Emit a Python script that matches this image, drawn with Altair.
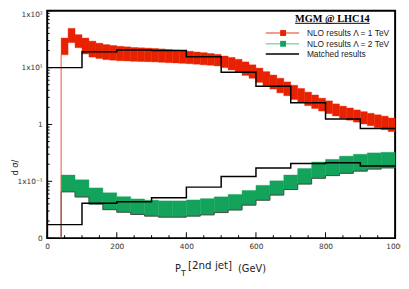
import altair as alt
import pandas as pd

# ---------------- data ----------------
red_edges = [40, 60, 80, 100, 120, 140, 160, 180, 200, 220, 240, 260, 280, 300, 320, 340,
             360, 380, 400, 420, 440, 460, 480, 500, 520, 540, 560, 580, 600, 620, 640, 660,
             680, 700, 720, 740, 760, 780, 800, 820, 840, 860, 880, 900, 920, 940, 960, 980, 1000]
red_hi = [33.1, 49.0, 38.0, 33.1, 29.2, 26.9, 25.4, 24.5, 23.7, 23.2,
          22.6, 22.3, 22.0, 21.7, 21.3, 20.8, 20.3, 19.9, 19.4, 18.8,
          18.3, 17.7, 17.1, 16.0, 15.1, 14.0, 12.6, 11.2, 9.8, 8.5,
          7.4, 6.5, 5.6, 4.9, 4.3, 3.7, 3.3, 2.9, 2.6, 2.3,
          2.1, 1.95, 1.8, 1.68, 1.57, 1.48, 1.40, 1.30]
red_lo = [16.8, 27.5, 22.4, 17.4, 15.3, 14.5, 13.8, 13.5, 13.2, 13.1,
          12.9, 12.8, 12.7, 12.6, 12.4, 12.2, 12.1, 11.9, 11.7, 11.5,
          11.2, 11.0, 10.7, 10.0, 9.1, 8.2, 7.3, 6.5, 5.5, 4.8,
          4.2, 3.6, 3.2, 2.75, 2.43, 2.14, 1.91, 1.72, 1.55, 1.41,
          1.29, 1.19, 1.10, 1.02, 0.95, 0.88, 0.81, 0.75]

green_edges = [40, 80, 120, 160, 200, 240, 280, 320, 360, 400, 440, 480, 520,
               560, 600, 640, 680, 720, 760, 800, 840, 880, 920, 960, 1000]
green_hi = [0.129, 0.106, 0.0764, 0.0628, 0.0536, 0.0489, 0.0465, 0.0452, 0.0452, 0.0470,
            0.0495, 0.0533, 0.0587, 0.0689, 0.0849, 0.102, 0.129, 0.168, 0.218, 0.243,
            0.277, 0.299, 0.316, 0.324]
green_lo = [0.0653, 0.0530, 0.0396, 0.0317, 0.0286, 0.0261, 0.0244, 0.0234, 0.0234, 0.0244,
            0.0257, 0.0282, 0.0313, 0.0381, 0.0465, 0.0573, 0.0716, 0.0895, 0.113, 0.126,
            0.138, 0.151, 0.164, 0.172]

matched_edges = [0, 100, 200, 300, 400, 500, 600, 700, 800, 900, 1000]
matched_1tev = [10.0, 19.0, 20.5, 20.0, 15.5, 8.3, 4.7, 2.4, 1.25, 0.85]
matched_2tev = [0.0173, 0.041, 0.0435, 0.0515, 0.079, 0.121, 0.172, 0.205, 0.212, 0.186]

x_major = [0, 200, 400, 600, 800, 1000]
x_minor = [50, 100, 150, 250, 300, 350, 450, 500, 550, 650, 700, 750, 850, 900, 950]
y_major = [0.01, 0.1, 1, 10, 100]
y_minor = [0.02, 0.03, 0.04, 0.05, 0.06, 0.07, 0.08, 0.09,
           0.2, 0.3, 0.4, 0.5, 0.6, 0.7, 0.8, 0.9,
           2, 3, 4, 5, 6, 7, 8, 9,
           20, 30, 40, 50, 60, 70, 80, 90]

legend_title = "MGM @ LHC14"
legend_labels = ["NLO results \u039b = 1 TeV", "NLO results \u039b = 2 TeV", "Matched results"]

# ---------------- style ----------------
W, H = 355, 232
RED = "#e82200"
RED_LIGHT = "#f27a68"
GREEN = "#13a35b"
GREEN_LIGHT = "#8fd6b2"
FONT = "DejaVu Sans"

xs = alt.Scale(domain=[0, 1000], nice=False, zero=False)
ys = alt.Scale(type="log", domain=[0.01, 100], nice=False)

y_label_expr = ("datum.value >= 99 ? '1x10\u00b2' : datum.value >= 9 ? '1x10\u00b9' : "
                "datum.value >= 0.9 ? '1' : datum.value >= 0.09 ? '1x10\u207b\u00b9' : '0'")
XAX = alt.Axis(values=x_major, ticks=False, domain=False, grid=False,
               labelFont=FONT, labelFontSize=7.5, labelColor="#333",
               labelPadding=5, labelFlush=False, labelOverlap=False, format="d", title=None)
YAX = alt.Axis(values=y_major, ticks=False, domain=False, grid=False,
               labelFont=FONT, labelFontSize=7.5, labelColor="#333",
               labelPadding=5, labelFlush=False, labelOverlap=False,
               labelBaseline={"condition": {"test": "datum.value >= 99", "value": "top"},
                              "value": "middle"},
               labelExpr=y_label_expr, title=None)


def X(f):
    return alt.X(f, scale=xs, axis=XAX, title=None)


def Y(f):
    return alt.Y(f, scale=ys, axis=YAX, title=None)


red_df = pd.DataFrame({"x0": red_edges[:-1], "x1": red_edges[1:], "lo": red_lo, "hi": red_hi})
green_df = pd.DataFrame({"x0": green_edges[:-1], "x1": green_edges[1:], "lo": green_lo, "hi": green_hi})
m1_df = pd.DataFrame({"x": matched_edges, "y": matched_1tev + [matched_1tev[-1]]})
m2_df = pd.DataFrame({"x": matched_edges, "y": matched_2tev + [matched_2tev[-1]]})
gout_df = pd.DataFrame({"x": green_edges, "y": green_lo + [green_lo[-1]]})
first_df = pd.DataFrame({"x": [red_edges[0]], "r": [red_lo[0]], "g": [green_lo[0]]})

red_band = alt.Chart(red_df).mark_rect(color=RED, stroke=RED, strokeWidth=0.4).encode(
    x=X("x0:Q"), x2="x1:Q", y=Y("lo:Q"), y2="hi:Q")
green_band = alt.Chart(green_df).mark_rect(color=GREEN, stroke=GREEN, strokeWidth=0.4).encode(
    x=X("x0:Q"), x2="x1:Q", y=Y("lo:Q"), y2="hi:Q")

green_outline = alt.Chart(gout_df).mark_line(interpolate="step-after", color="#4a4a4a",
                                             strokeWidth=1).encode(x=X("x:Q"), y=Y("y:Q"))

red_edge = alt.Chart(first_df).mark_rule(color="#f0503a", strokeWidth=1).encode(
    x=X("x:Q"), y=Y("r:Q"), y2=alt.value(H))
dark_edge = alt.Chart(first_df).mark_rule(color="#6e4a3c", strokeWidth=1).encode(
    x=X("x:Q"), y=Y("g:Q"), y2=alt.value(H))

m1 = alt.Chart(m1_df).mark_line(interpolate="step-after", color="black", strokeWidth=1.5).encode(
    x=X("x:Q"), y=Y("y:Q"))
m2 = alt.Chart(m2_df).mark_line(interpolate="step-after", color="black", strokeWidth=1.5).encode(
    x=X("x:Q"), y=Y("y:Q"))


def xticks(vals, length):
    return alt.Chart(pd.DataFrame({"v": vals})).mark_rule(color="black", strokeWidth=1).encode(
        x=X("v:Q"), y=alt.value(H), y2=alt.value(H - length))


def yticks(vals, length):
    return alt.Chart(pd.DataFrame({"v": vals})).mark_rule(color="black", strokeWidth=1).encode(
        y=Y("v:Q"), x=alt.value(0), x2=alt.value(length))


one = pd.DataFrame({"a": [0]})


def text(t, x, y, size, font=FONT, weight="normal", angle=0, align="left", baseline="alphabetic",
         color="#222"):
    return alt.Chart(one).mark_text(text=t, font=font, fontSize=size, fontWeight=weight,
                                    angle=angle, align=align, baseline=baseline, color=color).encode(
        x=alt.value(x), y=alt.value(y))


layers = [red_band, green_band, green_outline, red_edge, dark_edge, m1, m2,
          xticks(x_major, 6), xticks(x_minor, 3), yticks(y_major, 5), yticks(y_minor, 2.5)]

# legend (inside plot, top right)
layers.append(text(legend_title, 291, 11, 10.5, font="Liberation Serif", weight="bold",
                   align="center", color="black"))
layers.append(alt.Chart(one).mark_rule(color="black", strokeWidth=1).encode(
    x=alt.value(253), x2=alt.value(329), y=alt.value(12.8)))
legend_specs = [(RED_LIGHT, RED, 22.7), (GREEN_LIGHT, GREEN, 33.7), ("black", None, 44.0)]
for (lc, sc, yy), lab in zip(legend_specs, legend_labels):
    layers.append(alt.Chart(one).mark_rule(color=lc, strokeWidth=1.5).encode(
        x=alt.value(223), x2=alt.value(257), y=alt.value(yy)))
    if sc:
        layers.append(alt.Chart(one).mark_square(color=sc, opacity=1, size=36).encode(
            x=alt.value(240.7), y=alt.value(yy)))
    layers.append(text(lab, 265, yy, 8.5, font="Liberation Sans", baseline="middle", color="#222"))

# axis titles
layers.append(text("P", 130.3, 266.7, 10))
layers.append(text("T", 136.5, 270.7, 8))
layers.append(text("[2nd jet]", 143.7, 263, 10.5))
layers.append(text("(GeV)", 194.7, 266.5, 10))
layers.append(text("d \u03c3/", -33, 160, 8.5, angle=270, align="center", baseline="middle"))

chart = alt.layer(*layers).properties(
    width=W, height=H,
    autosize=alt.AutoSizeParams(type="none"),
    padding={"left": 40, "top": 0, "right": 6, "bottom": 46},
    background="white",
).configure_view(stroke="black", strokeWidth=2)

chart.save("out.html", embed_options={"renderer": "svg", "actions": False})
